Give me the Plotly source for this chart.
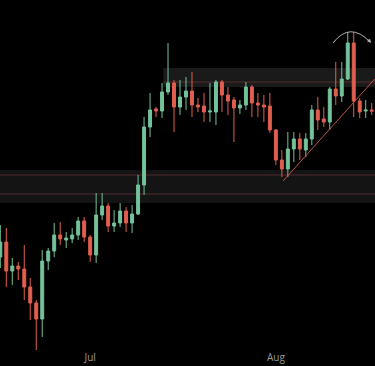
import pandas as pd
import plotly.graph_objects as go

start_date = "2024-06-16"
opens  = [143,158,129,134,131,113,97,81,139,149,165,160,161,165,179,163,145,185,194,174,177,189,177,186,215,273,291,289,308,317,293,303,309,295,294,288,288,318,305,300,292,295,313,297,295,294,270,240,231,251,261,250,261,290,281,278,311,304,321,357,299,289,290]
highs  = [175,172,142,138,155,122,100,150,152,177,178,168,172,183,183,165,207,207,197,190,197,193,195,225,283,307,293,317,357,320,320,323,328,302,307,317,320,320,313,303,300,318,315,307,305,307,271,250,268,268,267,267,295,303,293,313,338,338,368,368,302,300,297]
lows   = [132,113,115,120,100,80,50,63,130,143,155,152,157,160,158,138,137,180,168,168,173,168,167,185,205,263,283,282,305,268,285,290,283,288,278,278,275,288,285,258,286,290,283,283,278,267,235,223,223,238,240,243,255,270,273,270,295,298,320,283,282,282,285]
closes = [158,129,134,131,113,97,81,139,149,165,161,162,165,179,163,145,185,194,174,177,189,177,186,215,273,290,289,308,317,293,303,309,295,293,288,289,318,305,299,292,295,313,297,295,293,270,240,231,251,261,251,261,290,280,278,311,304,321,357,299,288,290,289]

tick_dates = ["2024-07-01", "2024-08-01"]
tick_labels = ["Jul", "Aug"]

upper_zone = [313, 332]
upper_zone_line = 318
upper_zone_start = "2024-07-13 05:00"
lower_zone = [197, 230]
lower_zone_lines = [225, 206]
trend_dates = ["2024-08-02 05:00", "2024-08-17 12:00"]
trend_prices = [219, 321]

dates = pd.date_range(start_date, periods=len(opens), freq="D")

GREEN = "#74c29b"
RED = "#e15f4f"

fig = go.Figure(go.Candlestick(
    x=dates, open=opens, high=highs, low=lows, close=closes,
    increasing=dict(line=dict(color=GREEN, width=1), fillcolor=GREEN),
    decreasing=dict(line=dict(color=RED, width=1), fillcolor=RED),
    whiskerwidth=0, showlegend=False, hoverinfo="skip",
))

x0 = pd.Timestamp(start_date) - pd.Timedelta(hours=1.2)
x1 = pd.Timestamp(start_date) + pd.Timedelta(hours=62.55 * 24)

shapes = [
    dict(type="rect", xref="x", yref="y", x0=upper_zone_start, x1=x1, y0=upper_zone[0], y1=upper_zone[1],
         fillcolor="rgba(255,255,255,0.10)", line=dict(width=0), layer="below"),
    dict(type="line", xref="x", yref="y", x0=upper_zone_start, x1=x1, y0=upper_zone_line, y1=upper_zone_line,
         line=dict(color="rgba(200,80,80,0.35)", width=1), layer="below"),
    dict(type="rect", xref="x", yref="y", x0=x0, x1=x1, y0=lower_zone[0], y1=lower_zone[1],
         fillcolor="rgba(255,255,255,0.08)", line=dict(width=0), layer="below"),
]
for lv in lower_zone_lines:
    shapes.append(dict(type="line", xref="x", yref="y", x0=x0, x1=x1, y0=lv, y1=lv,
                       line=dict(color="rgba(200,80,100,0.35)", width=1), layer="below"))
shapes.append(dict(type="line", xref="x", yref="y", x0=trend_dates[0], x1=trend_dates[1],
                   y0=trend_prices[0], y1=trend_prices[1], line=dict(color="#c0504a", width=1)))

# curved arrow (paper coords from plot area 375x350)
def px(x): return x / 375.0
def py(y): return (350 - y) / 350.0
shapes.append(dict(type="path", xref="paper", yref="paper",
                   path=f"M {px(333)},{py(43)} Q {px(350)},{py(21)} {px(370)},{py(42)}",
                   line=dict(color="#b0b0b0", width=1)))

fig.update_layout(
    width=375, height=366, autosize=False,
    margin=dict(l=0, r=0, t=0, b=16),
    paper_bgcolor="#000000", plot_bgcolor="#000000",
    shapes=shapes,
    annotations=[dict(xref="paper", yref="paper", x=px(371), y=py(43), ax=-4, ay=-5,
                      showarrow=True, arrowhead=2, arrowsize=0.8, arrowwidth=1,
                      arrowcolor="#b0b0b0", text="")],
    xaxis=dict(range=[x0, x1], rangeslider=dict(visible=False), showgrid=False, zeroline=False,
               tickvals=tick_dates, ticktext=tick_labels, ticks="", showline=False,
               tickfont=dict(color="#9a9a9a", size=10, family="Open Sans")),
    yaxis=dict(range=[50, 400], showgrid=False, zeroline=False, showticklabels=False, showline=False),
)

fig.write_html("out.html", config={"responsive": False, "displayModeBar": False})

with open("out.html", "r", encoding="utf-8") as f:
    html = f.read()
html = html.replace("<head>", "<head><style>html,body{margin:0;padding:0;overflow:hidden;background:#000}</style>", 1)
with open("out.html", "w", encoding="utf-8") as f:
    f.write(html)
